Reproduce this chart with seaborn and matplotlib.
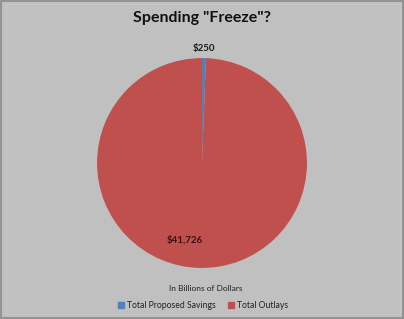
import matplotlib
matplotlib.use("Agg")
import matplotlib.pyplot as plt
import seaborn as sns
import numpy as np
from matplotlib.patches import Rectangle

categories = ["Total Proposed Savings", "Total Outlays"]
values = [250, 41726]
value_labels = ["$250", "$41,726"]
title = 'Spending "Freeze"?'
subtitle = "In Billions of Dollars"

sns.set_theme(style="white")
plt.rcParams['font.family'] = ['Lato', 'DejaVu Sans']

colors = ["#4f81bd", "#c0504d"]
bg = "#c0c0c0"

fig = plt.figure(figsize=(4.04, 3.19), dpi=100)
fig.patch.set_facecolor(bg)
ax = fig.add_axes([0.24, 0.16, 0.52, 0.658])
ax.set_facecolor(bg)

wedges, _ = ax.pie(values, colors=colors, startangle=90, counterclock=False,
                   wedgeprops=dict(linewidth=0))
ax.set_aspect("equal")
ax.set_xlim(-1, 1)
ax.set_ylim(-1, 1)

# label placement: radial distance and angular offset (deg) from wedge middle
dists = [1.09, 0.75]
angle_offsets = [0, -11.5]
label_colors = ["#1a1a1a", "#3a1010"]
for w, lab, d, off, lc in zip(wedges, value_labels, dists, angle_offsets, label_colors):
    mid = np.deg2rad((w.theta1 + w.theta2) / 2 + off)
    ax.text(d * np.cos(mid), d * np.sin(mid), lab, ha="center", va="center",
            fontsize=7, fontweight="bold", color=lc)

fig.text(0.5, 0.943, title, ha="center", va="center", fontsize=11.5,
         fontweight="bold", color="#111111")
fig.text(0.509, 0.097, subtitle, ha="center", va="center", fontsize=6.0,
         color="#222222")

handles = [Rectangle((0, 0), 1, 1, color=c) for c in colors]
leg = fig.legend(handles, categories, loc="center", bbox_to_anchor=(0.503, 0.043),
                 ncol=2, frameon=False, fontsize=6.2, handlelength=0.7,
                 handleheight=0.7, handletextpad=0.35, columnspacing=1.4)
for t in leg.get_texts():
    t.set_color("#222222")

fig.add_artist(Rectangle((0.002, 0.003), 0.996, 0.994, transform=fig.transFigure,
                         fill=False, edgecolor="#8a8a8a", linewidth=1.2))
fig.add_artist(Rectangle((0.014, 0.016), 0.975, 0.97, transform=fig.transFigure,
                         fill=False, edgecolor="#cbcbcb", linewidth=0.5))

fig.savefig("out.png", dpi=100, facecolor=bg)
